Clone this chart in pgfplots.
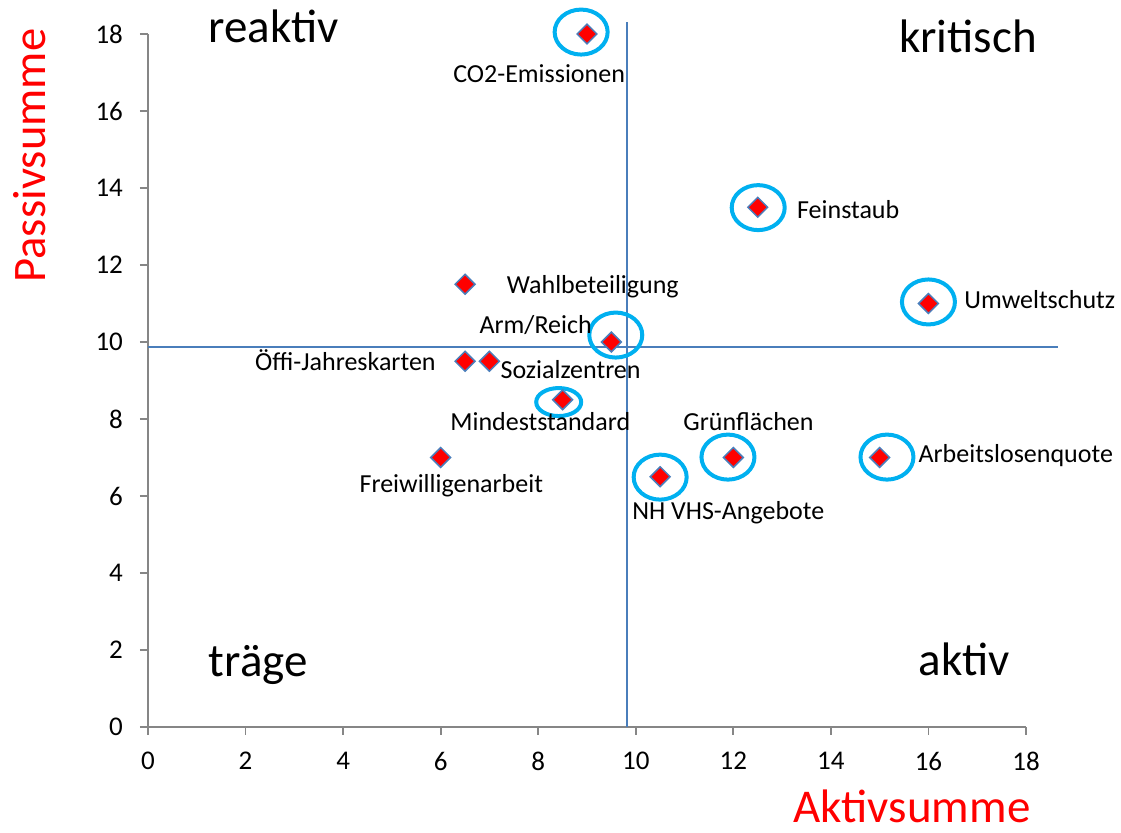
\documentclass[border=0pt]{standalone}
\usepackage{pgfplots}
\pgfplotsset{compat=1.18}
\usepackage{fontspec}
\setmainfont{Carlito}
\definecolor{ringc}{HTML}{00B0F0}
\definecolor{linec}{HTML}{4A7EBB}
\definecolor{axc}{HTML}{868686}
\pgfdeclareplotmark{ringA}{\pgfpathellipse{\pgfpointorigin}{\pgfqpoint{13.25pt}{0pt}}{\pgfqpoint{0pt}{11.25pt}}\pgfusepathqstroke}
\pgfdeclareplotmark{ringB}{\pgfpathellipse{\pgfpointorigin}{\pgfqpoint{11.25pt}{0pt}}{\pgfqpoint{0pt}{7pt}}\pgfusepathqstroke}
\begin{document}
\begin{tikzpicture}
\begin{axis}[
  scale only axis, width=439pt, height=346.5pt,
  xmin=0, xmax=18, ymin=0, ymax=18,
  xtick={0,2,...,18}, ytick={0,2,...,18},
  axis lines*=left,
  axis line style={axc, line width=0.9pt},
  tick style={axc, line width=0.9pt},
  tick align=outside, major tick length=4pt,
  /pgf/number format/assume math mode=true,
  tick label style={font=\fontsize{13.5}{16}\selectfont, black},
  xticklabel style={yshift=-5pt},
  yticklabel style={xshift=-5pt},
  clip=false,
]
\coordinate (O) at (rel axis cs:0,0);
% quadrant lines
\addplot[linec, line width=1pt] coordinates {(9.81,0) (9.81,18.32)};
\addplot[linec, line width=1pt] coordinates {(0,9.86) (18.66,9.86)};
% rings
\addplot[only marks, mark=ringA, mark options={ringc, line width=2pt}] coordinates {
(8.88,18.05) (12.51,13.49) (16.00,11.04) (9.59,10.18) (11.89,7.01) (15.15,7.01) (10.50,6.49)};
\addplot[only marks, mark=ringB, mark options={ringc, line width=2pt}] coordinates {(8.42,8.44)};
% data points
\addplot[only marks, mark=square*, mark size=3.5pt, mark options={rotate=45, fill=red, draw=linec, line width=0.75pt}] coordinates {
(9,18) (12.5,13.5) (16,11) (6.5,11.5) (9.5,10) (6.5,9.5) (7,9.5) (8.5,8.5) (6,7) (12,7) (15,7) (10.5,6.5)};
% labels
\addplot[draw=none, mark=none, nodes near coords, point meta=explicit symbolic,
  nodes near coords style={anchor=base west, inner sep=0pt, font=\fontsize{13}{15}\selectfont, black}]
  table[col sep=comma, x=x, y=y, meta=label] {
x,y,label
6.25,16.75,CO2-Emissionen
13.30,13.22,Feinstaub
16.73,10.86,Umweltschutz
7.35,11.27,Wahlbeteiligung
6.79,10.23,Arm/Reich
7.22,9.06,Sozialzentren
6.19,7.71,Mindeststandard
2.19,9.27,Öffi-Jahreskarten
4.33,6.10,Freiwilligenarbeit
10.97,7.69,Grünflächen
15.79,6.88,Arbeitslosenquote
9.92,5.38,NH VHS-Angebote
};
\node[anchor=base west, inner sep=0pt, font=\fontsize{23.5}{28}\selectfont] at (axis cs:1.23,17.77) {reaktiv};
\node[anchor=base west, inner sep=0pt, font=\fontsize{23.5}{28}\selectfont] at (axis cs:15.39,17.51) {kritisch};
\node[anchor=base west, inner sep=0pt, font=\fontsize{23.5}{28}\selectfont] at (axis cs:1.24,1.30) {träge};
\node[anchor=base west, inner sep=0pt, font=\fontsize{23.5}{28}\selectfont] at (axis cs:15.79,1.35) {aktiv};
\node[anchor=center, inner sep=0pt, rotate=90, text=red, font=\fontsize{23.3}{28}\selectfont] at (axis cs:-2.42,14.84) {Passivsumme};
\node[anchor=center, inner sep=0pt, text=red, font=\fontsize{23.5}{28}\selectfont] at (axis cs:15.66,-2.07) {Aktivsumme};
\end{axis}
\pgfresetboundingbox
\path[use as bounding box] ([shift={(-74pt,-53pt)}]O) rectangle ([shift={(486.5pt,363.5pt)}]O);
\end{tikzpicture}
\end{document}
